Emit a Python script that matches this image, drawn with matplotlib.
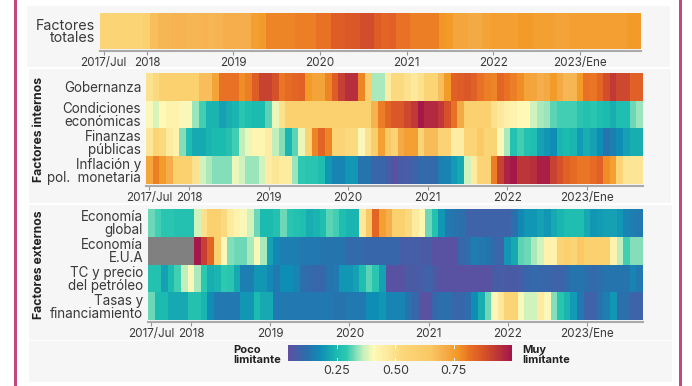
import numpy as np
import matplotlib
matplotlib.use("Agg")
import matplotlib.pyplot as plt
from matplotlib.colors import LinearSegmentedColormap, Normalize
from matplotlib.cm import ScalarMappable
from matplotlib.patches import Rectangle

W, H = 692, 386
nan = np.nan

TOTALES = [.55, .55, .55, .55, .55, .55, .58, .67, .69, .69, .70, .70, .69, .69, .70, .69,
           .70, .71, .71, .71, .71, .75, .76, .79, .79, .79, .79, .80, .80, .80,
           .82, .82, .86, .86, .87, .87, .89, .89, .86, .84, .85, .82, .82, .80, .80,
           .80, .80, .77, .76, .73, .73, .72, .72, .74, .75, .75, .75, .75, .76, .76,
           .75, .75, .75, .74, .74, .75, .75, .75, .75, .75, .75, .75, .75, .76, .76]

GOBERNANZA = [.49, .52, .58, .58, .58, .58, .58, .58, .67, .67, .74, .82, .82, .82, .78, .80,
              .86, .91, .91, .88, .81, .83, .84, .85, .76, .74, .74, .79, .86, .92,
              .95, .95, .79, .60, .35, .35, .45, .52, .52, .49, .47, .49, .55, .55, .67,
              .76, .85, .86, .87, .85, .82, .80, .79, .84, .82, .80, .78, .74, .73, .71,
              .72, .76, .72, .69, .69, .76, .82, .81, .84, .89, .93, .90, .90, .85, .85]
CONDICIONES = [.40, .38, .41, .43, .43, .40, .40, .34, .30, .24, .24, .21, .23, .24, .28, .26,
               .25, .25, .31, .39, .49, .58, .58, .58, .58, .58, .58, .58, .58, .58,
               .58, .58, .58, .58, .70, .80, .84, .87, .87, .90, .93, .99, .96, .96, .93,
               .88, .82, .72, .58, .58, .58, .58, .50, .47, .44, .43, .41, .41, .37, .35,
               .34, .31, .30, .30, .30, .28, .27, .28, .26, .25, .23, .26, .26, .32, .34]
FINANZAS = [.48, .55, .52, .46, .43, .33, .26, .22, .22, .24, .25, .25, .27, .30, .36, .39,
            .42, .42, .45, .36, .33, .24, .31, .39, .55, .79, .84, .79, .55, .55,
            .52, .52, .40, .49, .60, .75, .64, .56, .72, .75, .75, .55, .68, .68, .56,
            .56, .45, .45, .55, .55, .63, .55, .55, .40, .35, .27, .30, .27, .26, .21,
            .19, .18, .24, .25, .24, .20, .23, .21, .18, .13, .15, .18, .21, .23, .23]
INFLACION = [.73, .80, .76, .71, .58, .58, .58, .49, .37, .35, .33, .33, .33, .39, .37, .34,
             .34, .37, .45, .48, .46, .46, .34, .29, .28, .28, .26, .19, .16, .16,
             .19, .19, .13, .13, .10, .10, .08, .05, .07, .08, .09, .11, .11, .11, .15,
             .16, .20, .22, .37, .46, .55, .55, .80, .91, .97, .99, .94, .94, .95, .98,
             .98, .91, .88, .85, .83, .81, .81, .83, .85, .78, .75, .55, .48, .48, .48]

GLOBAL = [.32, .30, .28, .28, .27, .27, .27, .37, .50, .58, .58, .52, .46, .43, .40, .37,
          .32, .25, .25, .27, .32, .28, .27, .26, .23, .24, .26, .31, .30, .26,
          .24, .24, .47, .64, .84, .75, .71, .58, .58, .52, .46, .42, .32, .27, .19,
          .14, .13, .12, .09, .09, .09, .09, .09, .09, .09, .12, .17, .19, .19, .21,
          .19, .22, .24, .26, .26, .26, .22, .19, .20, .21, .21, .19, .16, .15, .14]
EUA = [nan, nan, nan, nan, nan, nan, nan, .99, .92, .84, .58, .40, .33, .32, .32, .35,
       .40, .35, .21, .17, .15, .15, .15, .14, .14, .14, .13, .13, .13, .13,
       .11, .11, .11, .10, .10, .10, .10, .10, .08, .08, .08, .07, .07, .05, .05,
       .05, .05, .10, .12, .15, .14, .13, .11, .09, .19, .22, .31, .32, .35, .37,
       .43, .43, .55, .58, .55, .64, .58, .58, .58, .58, .43, .36, .30, .33, .33]
PETROLEO = [.27, .27, .21, .25, .30, .36, .40, .35, .29, .23, .24, .29, .28, .22, .15, .15,
            .19, .19, .17, .14, .18, .18, .16, .12, .11, .10, .10, .13, .14, .19,
            .19, .21, .26, .31, .28, .21, .05, .05, .05, .07, .07, .08, .09, .07, .05,
            .05, .05, .05, .05, .05, .05, .05, .07, .08, .07, .07, .08, .10, .11, .10,
            .10, .09, .09, .11, .13, .13, .12, .11, .12, .13, .13, .13, .13, .16, .14]
TASAS = [.32, .25, .25, .22, .22, .22, .27, .27, .24, .18, .14, .14, .14, .14, .19, .19,
         .25, .22, .22, .14, .14, .14, .14, .14, .14, .14, .14, .14, .13, .13,
         .14, .14, .14, .18, .18, .19, .16, .16, .16, .13, .10, .05, .05, .10, .12,
         .12, .10, .10, .12, .18, .23, .32, .40, .47, .55, .55, .40, .37, .37, .46,
         .40, .33, .28, .24, .20, .14, .09, .09, .13, .15, .19, .12, .12, .09, .09]

INTERNOS = [GOBERNANZA, CONDICIONES, FINANZAS, INFLACION]
EXTERNOS = [GLOBAL, EUA, PETROLEO, TASAS]
LABELS_INT = ["Gobernanza", "Condiciones\neconómicas", "Finanzas\npúblicas", "Inflación y\npol.  monetaria"]
LABELS_EXT = ["Economía\nglobal", "Economía\nE.U.A", "TC y precio\ndel petróleo", "Tasas y\nfinanciamiento"]
TICK_POS = [0, 6, 18, 30, 42, 54, 66]
TICK_LAB = ["2017/Jul", "2018", "2019", "2020", "2021", "2022", "2023/Ene"]

plt.rcParams["font.family"] = ["Inter", "DejaVu Sans"]
TXT = "#3a3a3a"

VMIN, VMAX = 0.04, 1.0
stops = [(0.04, "#5E4FA2"), (0.12, "#2A6FAD"), (0.177, "#0F8DB5"), (0.25, "#1CBBB0"), (0.29, "#2DC8B0"),
         (0.32, "#6FD9B8"), (0.36, "#C0EFBD"), (0.405, "#FFF9B8"), (0.46, "#FDEBA0"), (0.535, "#FBD678"),
         (0.65, "#FAC864"), (0.705, "#F5B04E"), (0.765, "#F39A28"), (0.82, "#E87025"), (0.865, "#DD5A25"),
         (0.92, "#C53F33"), (1.0, "#A2154B")]
cmap = LinearSegmentedColormap.from_list(
    "limit", [((v - VMIN) / (VMAX - VMIN), c) for v, c in stops]).copy()
cmap.set_bad("#808080")
norm = Normalize(VMIN, VMAX)

fig = plt.figure(figsize=(W / 100, H / 100), dpi=100, facecolor="white")


def px_axes(x0, y0, x1, y1):
    return fig.add_axes([x0 / W, 1 - y1 / H, (x1 - x0) / W, (y1 - y0) / H])


def panel(x0, y0, x1, y1):
    fig.add_artist(Rectangle((x0 / W, 1 - y1 / H), (x1 - x0) / W, (y1 - y0) / H,
                             transform=fig.transFigure, color="#F6F6F6", lw=0, zorder=-2))


def heat(x0, y0, x1, y1, rows, labels, size):
    ax = px_axes(x0, y0, x1, y1)
    ax.patch.set_alpha(0)
    ax.pcolormesh(np.ma.masked_invalid(np.array(rows)), cmap=cmap, norm=norm, linewidth=0, rasterized=True)
    ax.invert_yaxis()
    ax.set_xlim(0, 75)
    # set_position resets the ticks, so it has to come before the tick labels
    ax.spines["bottom"].set_position(("outward", 1.5))
    ax.spines["bottom"].set_color("#aaaaaa")
    ax.spines["bottom"].set_linewidth(1.5)
    for s in ["top", "left", "right"]:
        ax.spines[s].set_visible(False)
    ax.set_xticks([p + 0.5 for p in TICK_POS], TICK_LAB, fontsize=8.4, color=TXT)
    ax.set_yticks(np.arange(len(rows)) + 0.5, labels, fontsize=size, color=TXT, linespacing=0.9, ma="right")
    ax.tick_params(axis="y", length=0, pad=3.5)
    ax.tick_params(axis="x", length=3, width=0.8, color="#999999", pad=1.5)
    return ax


# page frame and grey panels
for x in (15, 680):
    fig.add_artist(Rectangle(((x - 1.5) / W, 0), 3 / W, 1, transform=fig.transFigure, color="#C4487F", lw=0, zorder=-2))
panel(27, 6, 670, 67)
panel(29, 69, 671, 203)
panel(29, 205, 672, 340)
panel(29, 341, 672, 382)

heat(100, 13, 641, 49, [TOTALES], ["Factores\ntotales"], 10.3)
heat(146, 73, 643, 184, INTERNOS, LABELS_INT, 9.7)
heat(148, 209, 643, 320, EXTERNOS, LABELS_EXT, 9.7)

fig.text(39 / W, 1 - 129 / H, "Factores internos", rotation=90, ha="center", va="center",
         fontsize=8.8, fontweight="bold", color="#222222")
fig.text(39 / W, 1 - 265 / H, "Factores externos", rotation=90, ha="center", va="center",
         fontsize=8.8, fontweight="bold", color="#222222")

cax = px_axes(288, 345, 512, 361)
cb = fig.colorbar(ScalarMappable(norm=norm, cmap=cmap), cax=cax, orientation="horizontal")
cb.set_ticks([0.25, 0.50, 0.75], labels=["0.25", "0.50", "0.75"])
cb.outline.set_visible(False)
cax.tick_params(axis="x", length=0, labelsize=9, labelcolor=TXT, pad=3)
for v in (0.25, 0.50, 0.75):
    cax.plot([v, v], [0, 0.17], color="white", lw=0.7)
    cax.plot([v, v], [0.83, 1], color="white", lw=0.7)
cax.set_ylim(0, 1)

fig.text(233 / W, 1 - 355 / H, "Poco\nlimitante", ha="left", va="center", fontsize=8,
         fontweight="bold", color="#222222", linespacing=1.0)
fig.text(522 / W, 1 - 355 / H, "Muy\nlimitante", ha="left", va="center", fontsize=8,
         fontweight="bold", color="#222222", linespacing=1.0)

fig.savefig("out.png", dpi=100, facecolor="white")
